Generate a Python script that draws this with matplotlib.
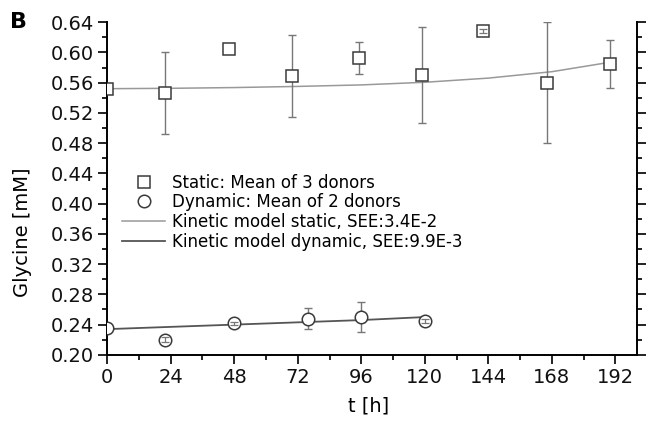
import numpy as np
import matplotlib
matplotlib.use("Agg")
from matplotlib import pyplot as plt
from matplotlib.lines import Line2D
from matplotlib.ticker import MultipleLocator, FormatStrFormatter

plt.rcParams["font.family"] = ["DejaVu Sans"]

# static: mean of 3 donors
t_static = [0, 22, 46, 70, 95, 119, 142, 166, 190]
gly_static = [0.552, 0.546, 0.605, 0.569, 0.593, 0.570, 0.628, 0.560, 0.585]
err_static = [0.0, 0.054, 0.0, 0.054, 0.021, 0.064, 0.003, 0.080, 0.032]

# dynamic: mean of 2 donors
t_dyn = [0, 22, 48, 76, 96, 120]
gly_dyn = [0.235, 0.220, 0.242, 0.248, 0.250, 0.245]
err_dyn = [0.0, 0.003, 0.002, 0.014, 0.020, 0.003]

# kinetic model curves
t_mod_static = [0, 24, 48, 72, 96, 120, 144, 168, 190]
mod_static = [0.552, 0.5525, 0.5535, 0.555, 0.557, 0.5605, 0.566, 0.5745, 0.587]
t_mod_dyn = [0, 24, 48, 72, 96, 120]
mod_dyn = [0.234, 0.237, 0.240, 0.243, 0.246, 0.250]

edge = "#3a3a3a"
fig = plt.figure(figsize=(6.49, 4.26), dpi=100)
ax = fig.add_axes([0.165, 0.167, 0.816, 0.781])

ax.plot(t_mod_static, mod_static, color="#999999", lw=1.1, zorder=2)
ax.plot(t_mod_dyn, mod_dyn, color="#555555", lw=1.3, zorder=2)

for t, g, e, mk, ms in [(t_static, gly_static, err_static, "s", 8.5),
                        (t_dyn, gly_dyn, err_dyn, "o", 9)]:
    t, g, e = np.array(t), np.array(g), np.array(e)
    big = e > 0.005
    small = (e > 0) & ~big
    ax.errorbar(t[big], g[big], yerr=e[big], fmt="none", ecolor="#777777",
                elinewidth=1.0, capsize=3, capthick=1.0, zorder=2.5)
    ax.plot(t, g, mk, ms=ms, mfc="white", mec=edge, mew=1.1, zorder=3)
    ax.errorbar(t[small], g[small], yerr=e[small], fmt="none", ecolor="#777777",
                elinewidth=0.9, capsize=3, capthick=0.9, zorder=4)

ax.set_xlim(0, 200)
ax.set_ylim(0.20, 0.64)
ax.xaxis.set_major_locator(MultipleLocator(24))
ax.xaxis.set_minor_locator(MultipleLocator(12))
ax.yaxis.set_major_locator(MultipleLocator(0.04))
ax.yaxis.set_minor_locator(MultipleLocator(0.02))
ax.yaxis.set_major_formatter(FormatStrFormatter("%.2f"))
ax.spines["top"].set_visible(False)
for s in ["left", "right", "bottom"]:
    ax.spines[s].set_linewidth(1.4)
ax.tick_params(which="both", direction="out", width=1.3, labelsize=14, right=True,
               pad=3, colors="#111111")
ax.tick_params(which="major", length=6.5)
ax.tick_params(which="minor", length=3.5)
ax.set_xlabel("t [h]", fontsize=14)
ax.set_ylabel("Glycine [mM]", fontsize=14)
ax.xaxis.set_label_coords(0.493, -0.126)
ax.yaxis.set_label_coords(-0.141, 0.37)

handles = [
    Line2D([], [], ls="none", marker="s", ms=8, mfc="white", mec=edge, mew=1.1),
    Line2D([], [], ls="none", marker="o", ms=9, mfc="white", mec=edge, mew=1.1),
    Line2D([], [], color="#999999", lw=1.1),
    Line2D([], [], color="#555555", lw=1.3),
]
labels = ["Static: Mean of 3 donors", "Dynamic: Mean of 2 donors",
          "Kinetic model static, SEE:3.4E-2", "Kinetic model dynamic, SEE:9.9E-3"]
ax.legend(handles, labels, loc="upper left", bbox_to_anchor=(0.028, 0.545),
          frameon=False, fontsize=12, handlelength=2.6, handletextpad=0.4,
          labelspacing=0.1, borderaxespad=0, borderpad=0)

fig.text(0.015, 0.935, "B", fontsize=16, fontweight="bold")
fig.savefig("out.png", dpi=100)
